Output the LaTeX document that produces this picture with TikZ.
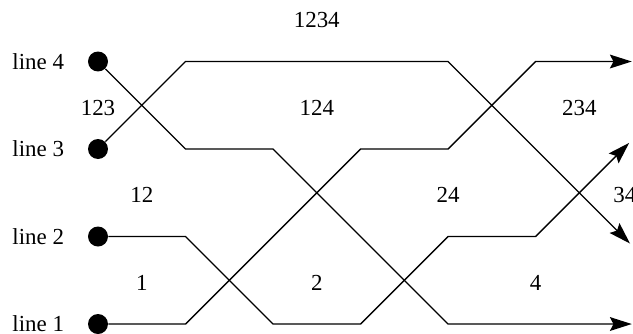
\documentclass[tikz,border=0pt]{standalone}
\usepackage{fontspec}
\setmainfont{Liberation Serif}
\usetikzlibrary{arrows.meta}

\begin{document}
\begin{tikzpicture}[x=1.34cm, y=1.34cm, >={Stealth[length=9.5pt,width=6pt,inset=1.5pt]},
        wire/.style={line width=0.6pt},
        dot/.style={circle, fill, inner sep=0pt, minimum size=8.7pt}]
        \useasboundingbox (-1.12,-0.103) rectangle (6.114,3.703);
        \node[dot] (d1) at (0,0) {}; \node[dot] (d2) at (0,1) {};
        \node[dot] (d3) at (0,2) {}; \node[dot] (d4) at (0,3) {};
        \coordinate (e1) at (6.1,3);     \coordinate (e2) at (6.07,2.07);
        \coordinate (e3) at (6.08,0.92); \coordinate (e4) at (6.1,0);
        \draw[->,wire] (d1)--(1,0)--(3,2)--(4,2)--(5,3)--(e1);
        \draw[->,wire] (d2)--(1,1)--(2,0)--(3,0)--(4,1)--(5,1)--(e2);
        \draw[->,wire] (d3)--(1,3)--(4,3)--(e3);
        \draw[->,wire] (d4)--(1,2)--(2,2)--(4,0)--(e4);
        \foreach \n in {1,2,3,4}
            \node[anchor=east] (l\n) at ([xshift=-6.7pt]d\n.west) {line \n};
        \foreach \t/\p in {1234/{(2.5,3.47)}, 123/{(0,2.47)}, 124/{(2.5,2.47)}, 234/{(5.5,2.47)},
                12/{(0.5,1.47)}, 24/{(4,1.47)}, 34/{(6.02,1.47)}, 1/{(0.5,0.47)}, 2/{(2.5,0.47)}, 4/{(5,0.47)}}
            \node (r\t) at \p {\t};
    \end{tikzpicture}
\end{document}
